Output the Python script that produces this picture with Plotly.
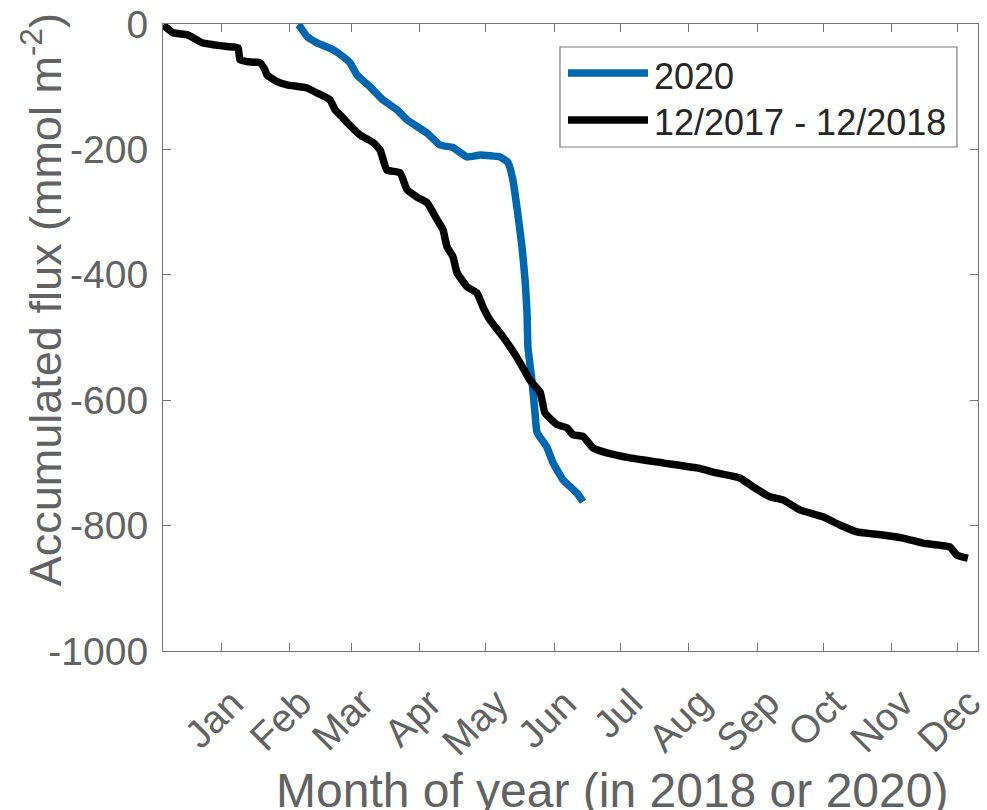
import plotly.graph_objects as go

# Month tick labels placed on the first day of each month (day of year, 0 = Jan 1)
months = ["Jan", "Feb", "Mar", "Apr", "May", "Jun",
          "Jul", "Aug", "Sep", "Oct", "Nov", "Dec"]
month_start_doy = [0, 31, 59, 90, 120, 151, 181, 212, 243, 273, 304, 334]
y_ticks = [0, -200, -400, -600, -800, -1000]

# Accumulated flux, 12/2017 - 12/2018 (day of year relative to 1 Jan 2018)
doy_2018 = [-26.3, -25.4, -21.8, -15.4, -12.7, -8.6, -3.6, 2.7, 7.7, 8.6,
            11.8, 17.7, 19.9, 20.8, 25.4, 29.9, 39.0, 43.5, 49.4, 51.7,
            54.8, 57.1, 63.0, 68.9, 72.1, 75.2, 81.1, 84.3, 88.8, 93.4,
            97.9, 100.6, 102.4, 105.1, 107.0, 111.5, 116.0, 118.7, 121.9, 127.8,
            131.0, 135.5, 140.0, 144.6, 146.8, 152.3, 156.8, 159.5, 164.1, 168.6,
            174.9, 185.4, 200.3, 215.7, 224.8, 235.2, 241.1, 248.8, 254.7, 262.4,
            272.8, 280.5, 288.2, 300.0, 309.1, 318.1, 330.4, 333.5, 338.5]
flux_2018 = [-2, -4, -14, -17, -22, -30, -33, -36, -38, -57,
             -60, -62, -73, -81, -92, -97, -102, -110, -121, -137,
             -148, -157, -177, -189, -201, -233, -237, -264, -276, -285,
             -312, -328, -355, -371, -397, -419, -429, -451, -472, -499,
             -515, -540, -568, -587, -620, -639, -644, -655, -658, -676,
             -684, -692, -700, -708, -716, -724, -738, -754, -759, -775,
             -786, -799, -810, -815, -820, -828, -834, -847, -852]

# Accumulated flux, 2020
doy_2020 = [34.9, 35.8, 39.0, 43.5, 50.8, 55.3, 58.5, 61.6, 67.5, 73.4,
            79.8, 84.3, 93.4, 99.2, 105.1, 111.5, 117.4, 126.5, 130.1, 132.3,
            134.1, 136.4, 137.8, 138.7, 139.1, 140.9, 142.3, 143.2, 147.7, 150.5,
            155.0, 161.3, 164.1]
flux_2020 = [-1, -4, -20, -30, -41, -52, -62, -81, -100, -121,
             -137, -153, -174, -193, -197, -212, -209, -212, -221, -249,
             -292, -355, -408, -461, -515, -568, -620, -651, -675, -700,
             -727, -748, -762]

FONT = "Liberation Sans, Arial, Helvetica, sans-serif"
AX_TEXT = "#626262"
AX_LINE = "#737373"
BLUE = "#0066AE"

fig = go.Figure()
fig.add_trace(go.Scatter(x=doy_2020, y=flux_2020, mode="lines", name="2020",
                         line=dict(color=BLUE, width=7.5, shape="spline",
                                   smoothing=0.4),
                         showlegend=False))
fig.add_trace(go.Scatter(x=doy_2018, y=flux_2018, mode="lines",
                         name="12/2017 - 12/2018",
                         line=dict(color="#000000", width=7.5, shape="spline",
                                   smoothing=0.4),
                         showlegend=False))

annotations = []
# Rotated month labels under the x axis
for m, d in zip(months, month_start_doy):
    annotations.append(dict(x=d, xref="x", y=-0.043, yref="paper",
                            text=m, showarrow=False, textangle=-45,
                            xanchor="right", yanchor="top", xshift=33,
                            font=dict(family=FONT, size=39, color=AX_TEXT)))

# Axis titles
annotations.append(dict(x=0.551, y=-0.222, xref="paper", yref="paper",
                        text="Month of year (in 2018 or 2020)", showarrow=False,
                        xanchor="center", yanchor="middle",
                        font=dict(family=FONT, size=48, color=AX_TEXT)))
annotations.append(dict(x=-0.148, y=0.56, xref="paper", yref="paper",
                        text="Accumulated flux (mmol m<sup>-2</sup>)",
                        showarrow=False, textangle=-90,
                        xanchor="center", yanchor="middle",
                        font=dict(family=FONT, size=45, color=AX_TEXT)))

# Legend entries
legend_entries = [("2020", BLUE, 0.9219, 0.9155),
                  ("12/2017 - 12/2018", "#000000", 0.8469, 0.8429)]
shapes = [dict(type="rect", xref="paper", yref="paper",
               x0=0.4871, x1=0.9742, y0=0.8038, y1=0.9633,
               line=dict(color="#7a7a7a", width=1.2), fillcolor="white",
               layer="above")]
for label, color, ly, ty in legend_entries:
    shapes.append(dict(type="line", xref="paper", yref="paper",
                       x0=0.4969, x1=0.5951, y0=ly, y1=ly,
                       line=dict(color=color, width=7.5), layer="above"))
    annotations.append(dict(x=0.600, y=ty, xref="paper", yref="paper",
                            text=label, showarrow=False,
                            xanchor="left", yanchor="middle",
                            font=dict(family=FONT, size=36, color="#262626")))

fig.update_layout(
    width=987, height=810,
    margin=dict(l=163, r=9, t=24, b=159),
    paper_bgcolor="white", plot_bgcolor="white",
    showlegend=False,
    annotations=annotations,
    shapes=shapes,
    xaxis=dict(range=[-26.3, 343.1], tickvals=month_start_doy,
               showticklabels=False, ticks="inside", ticklen=8,
               tickcolor=AX_LINE, tickwidth=1.2, showline=True,
               linecolor=AX_LINE, linewidth=1.2, mirror="ticks",
               showgrid=False, zeroline=False, automargin=False),
    yaxis=dict(range=[-1000, 0], tickvals=y_ticks,
               ticktext=[str(v) for v in y_ticks],
               ticks="inside", ticklen=8, tickcolor=AX_LINE, tickwidth=1.2,
               showline=True, linecolor=AX_LINE, linewidth=1.2,
               mirror="ticks", showgrid=False, zeroline=False,
               ticklabelstandoff=6, automargin=False,
               tickfont=dict(family=FONT, size=39, color=AX_TEXT)),
)

fig.write_html("out.html")
